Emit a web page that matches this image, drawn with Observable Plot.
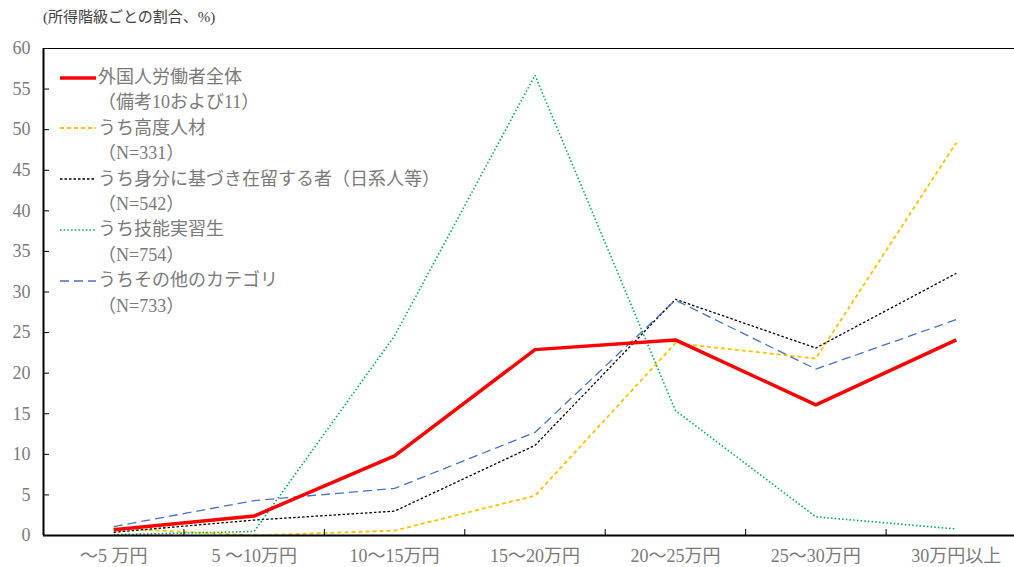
<!DOCTYPE html>
<html>
<head>
<meta charset="utf-8">
<script src="https://cdn.jsdelivr.net/npm/d3@7"></script>
<script src="https://cdn.jsdelivr.net/npm/@observablehq/plot@0.6"></script>
<style>
  body { margin: 0; background: #fff; }
  #wrap { position: relative; width: 1014px; height: 567px; overflow: hidden;
          font-family: "Liberation Serif", "Noto Sans CJK JP", serif; }
  #title { height: 30px; line-height: 34px; padding-left: 43px; font-size: 15px; color: #404040; }
  #legend { position: absolute; left: 60px; top: 65px; font-size: 18px; color: #7a7a7a; }
  #legend .row { height: 25.4px; line-height: 25.4px; white-space: nowrap; display: flex; align-items: center; }
  #legend svg { width: 38px; height: 10px; margin-right: 0; flex: none; }
  #legend .note { padding-left: 38px; }
</style>
</head>
<body>
<div id="wrap">
  <div id="title">(所得階級ごとの割合、%)</div>
  <div id="chart"></div>
  <div id="legend"></div>
</div>
<script>
// Income brackets (monthly)
const categories = ["～5 万円", "5 ～10万円", "10～15万円", "15～20万円", "20～25万円", "25～30万円", "30万円以上"];

// Share of workers in each bracket (%)
const allWorkers    = [0.7, 2.4, 9.8, 22.9, 24.1, 16.1, 24.1];
const highlySkilled = [0.9, 0.0, 0.6, 4.9, 23.7, 21.8, 48.4];
const statusBased   = [0.4, 1.9, 3.0, 11.1, 29.1, 23.1, 32.3];
const trainees      = [0.1, 0.5, 24.6, 56.7, 15.4, 2.3, 0.8];
const otherCategory = [1.1, 4.3, 5.8, 12.7, 29.0, 20.5, 26.6];

const seriesNames = ["外国人労働者全体", "うち高度人材", "うち身分に基づき在留する者（日系人等）", "うち技能実習生", "うちその他のカテゴリ"];
const seriesNotes = ["（備考10および11）", "（N=331）", "（N=542）", "（N=754）", "（N=733）"];
const yTicks = [0, 5, 10, 15, 20, 25, 30, 35, 40, 45, 50, 55, 60];

const series = [
  {name: seriesNames[0], note: seriesNotes[0], values: allWorkers,    stroke: "#ff0000", width: 3.5, dash: null},
  {name: seriesNames[1], note: seriesNotes[1], values: highlySkilled, stroke: "#ffc000", width: 1.8, dash: "4,3"},
  {name: seriesNames[2], note: seriesNotes[2], values: statusBased,   stroke: "#000000", width: 1.3, dash: "2.5,2"},
  {name: seriesNames[3], note: seriesNotes[3], values: trainees,      stroke: "#00b050", width: 1.6, dash: "1.5,2.2"},
  {name: seriesNames[4], note: seriesNotes[4], values: otherCategory, stroke: "#4472c4", width: 1.3, dash: "9,5"}
];

const toPoints = (values) => values.map((v, i) => ({x: i + 0.5, y: v, label: categories[i]}));

// draw the thick total line last so it sits on top
const drawOrder = [1, 2, 3, 4, 0];

const chart = Plot.plot({
  width: 1014,
  height: 537,
  marginTop: 18,
  marginBottom: 32,
  marginLeft: 43,
  marginRight: 0,
  style: {fontFamily: "'Liberation Serif', 'Noto Sans CJK JP', serif", fontSize: "18px", background: "white"},
  x: {type: "linear", domain: [0, categories.length], range: [43, 1026], axis: null},
  y: {domain: [0, 60], axis: null},
  marks: [
    ...drawOrder.map(k => {
      const s = series[k];
      return Plot.line(toPoints(s.values), {
        x: "x", y: "y", stroke: s.stroke, strokeWidth: s.width,
        strokeDasharray: s.dash, strokeLinejoin: "miter", strokeLinecap: "butt"
      });
    }),
    // y axis: inward ticks and gray labels
    Plot.axisY(yTicks, {tickSize: -6, fill: "none", stroke: "black", strokeWidth: 1, label: null}),
    Plot.axisY(yTicks, {tickSize: 0, tickPadding: 13, fill: "#7a7a7a", tickFormat: d => String(d), label: null}),
    // x axis: inward ticks at bracket boundaries, labels at bracket centres
    Plot.axisX(d3.range(1, categories.length), {tickSize: -6, fill: "none", stroke: "black", strokeWidth: 1, label: null}),
    Plot.axisX(categories.map((c, i) => i + 0.5), {
      tickSize: 0, tickPadding: 14, fill: "#7a7a7a", label: null,
      tickFormat: d => categories[Math.round(d - 0.5)]
    }),
    Plot.ruleY([60], {stroke: "black", strokeWidth: 1}),
    Plot.ruleY([0], {stroke: "black", strokeWidth: 2}),
    Plot.ruleX([0], {stroke: "black", strokeWidth: 2})
  ]
});
document.getElementById("chart").appendChild(chart);

// legend with swatches using each line's style
const legend = d3.select("#legend");
series.forEach(s => {
  const row = legend.append("div").attr("class", "row");
  const sw = row.append("svg").attr("viewBox", "0 0 38 10");
  sw.append("line")
    .attr("x1", 0).attr("x2", 36).attr("y1", 5).attr("y2", 5)
    .attr("stroke", s.stroke).attr("stroke-width", s.width)
    .attr("stroke-dasharray", s.dash);
  row.append("span").text(s.name);
  legend.append("div").attr("class", "row note").text(s.note);
});
</script>
</body>
</html>
